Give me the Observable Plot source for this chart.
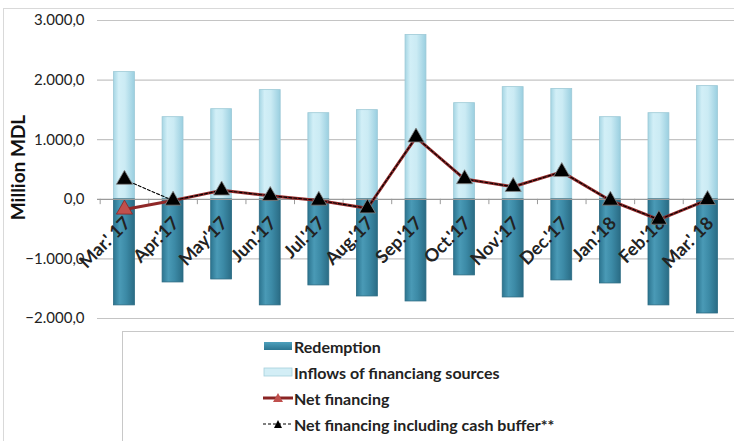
<!DOCTYPE html>
<html>
<head>
<meta charset="utf-8">
<script src="https://cdn.jsdelivr.net/npm/d3@7"></script>
<script src="https://cdn.jsdelivr.net/npm/@observablehq/plot@0.6"></script>
<style>
  html, body { margin: 0; padding: 0; background: #fff; width: 734px; height: 441px; overflow: hidden; }
  #wrap { position: relative; width: 734px; height: 441px; font-family: Lato, "Open Sans", sans-serif; }
  #frame { position: absolute; left: 3px; top: 8px; width: 740px; height: 440px; border: 1px solid #d9d9d9; box-sizing: border-box; }
  #chart { position: absolute; left: 0; top: 0; }
  #legend { position: absolute; left: 122px; top: 331px; width: 620px; height: 120px; border: 1px solid #c8c8c8; box-sizing: border-box; background: #fff; }
  .item { position: absolute; left: 140px; height: 20px; display: flex; align-items: center; font-weight: bold; font-size: 16px; color: #222; }
  .item svg { margin-right: 1px; }
</style>
</head>
<body>
<div id="wrap">
  <div id="frame"></div>
  <div id="chart"></div>
  <div id="legend"></div>
</div>
<script>
const categories = ["Mar.' 17","Apr.'17","May'17","Jun.'17","Jul.'17","Aug.'17","Sep.'17","Oct.'17","Nov.'17","Dec.'17","Jan.'18","Feb.'18","Mar.' 18"];
const inflows = [2134, 1378, 1512, 1832, 1445, 1496, 2756, 1613, 1882, 1849, 1378, 1445, 1899];
const redemption = [-1780, -1395, -1345, -1780, -1445, -1630, -1714, -1277, -1647, -1361, -1412, -1780, -1916];
const netFinancing = [-170, -20, 150, 60, -20, -150, 1040, 340, 210, 460, -20, -340, -10];
const netWithBuffer = [330, -20, 150, 60, -20, -150, 1040, 340, 210, 460, -20, -340, -10];
const yTicks = [-2000, -1000, 0, 1000, 2000, 3000];
const seriesNames = ["Redemption", "Inflows of financiang sources", "Net financing", "Net financing including cash buffer**"];

const rows = categories.map((c, i) => ({
  cat: c, inflow: inflows[i], redemption: redemption[i], net: netFinancing[i], buffer: netWithBuffer[i]
}));

const loc = d3.formatLocale({decimal: ",", thousands: ".", grouping: [3], currency: ["", ""]});
const fmt = loc.format(",.1f");

const W = 734, H = 328, ML = 97, MR = 0, MT = 20, MB = 10;
const PI = 0.57, PO = 0.34;
const step = (W - ML - MR) / (categories.length - PI + 2 * PO);

const chart = Plot.plot({
  width: W,
  height: H,
  marginLeft: ML,
  marginRight: MR,
  marginTop: MT,
  marginBottom: MB,
  style: {fontFamily: "Lato, 'Open Sans', sans-serif", fontSize: "15px", color: "#222", background: "transparent"},
  x: {domain: categories, paddingInner: PI, paddingOuter: PO, round: false, axis: null},
  y: {domain: [-2000, 3000], ticks: yTicks, tickFormat: fmt, tickSize: 0, tickPadding: 13, label: null},
  marks: [
    Plot.ruleY(yTicks.filter(d => d !== 0), {stroke: "#c4c4c4", strokeWidth: 1.2}),
    Plot.barY(rows, {x: "cat", y: "inflow", fill: "url(#gIn)", stroke: "#9cc9d6", strokeWidth: 0.8}),
    Plot.barY(rows, {x: "cat", y: "redemption", fill: "url(#gRed)", stroke: "#2a6a82", strokeWidth: 0.8}),
    Plot.ruleY([0], {stroke: "#9a9a9a", strokeWidth: 1.2}),
    Plot.ruleX(categories, {x: d => d, y1: 0, y2: -90, dx: -step / 2, stroke: "#9a9a9a"}),
    Plot.text(categories, {x: d => d, y: 0, text: d => d, rotate: -45, textAnchor: "end", dx: 3, dy: 21, fontWeight: "bold", fontSize: 18, fill: "#222"}),
    Plot.line(rows, {x: "cat", y: "net", stroke: "#8f2828", strokeWidth: 3}),
    Plot.line(rows, {x: "cat", y: "buffer", stroke: "#000", strokeWidth: 1.1, strokeDasharray: "3,2"}),
    Plot.dot(rows, {x: "cat", y: "buffer", symbol: "triangle", r: 6, fill: "#000", stroke: "#888", strokeWidth: 0.8}),
    Plot.dot(rows.slice(0, 1), {x: "cat", y: "net", symbol: "triangle", r: 6, fill: "#c0504d", stroke: "#8a2424", strokeWidth: 0.8}),
    Plot.text(["Million MDL"], {frameAnchor: "left", textAnchor: "middle", text: d => d, rotate: -90, dx: -79, dy: -2, fontWeight: "bold", fontSize: 19, fill: "#111"})
  ]
});

const defs = d3.select(chart).insert("defs", ":first-child");
const gIn = defs.append("linearGradient").attr("id", "gIn").attr("x1", "0").attr("x2", "1").attr("y1", "0").attr("y2", "0");
[[0, "#a6d6e4"], [0.25, "#d2eff7"], [0.55, "#cbebf4"], [1, "#9acfe0"]].forEach(([o, c]) => gIn.append("stop").attr("offset", o).attr("stop-color", c));
const gRed = defs.append("linearGradient").attr("id", "gRed").attr("x1", "0").attr("x2", "1").attr("y1", "0").attr("y2", "0");
[[0, "#2c7590"], [0.3, "#4a9ab6"], [0.6, "#3c8aa6"], [1, "#2a6c85"]].forEach(([o, c]) => gRed.append("stop").attr("offset", o).attr("stop-color", c));

document.getElementById("chart").appendChild(chart);

// Legend
const legend = document.getElementById("legend");
const swatches = [
  `<svg width="30" height="12"><rect x="1" y="2" width="28" height="8" fill="url(#lgRed)"/><defs><linearGradient id="lgRed" x1="0" x2="0" y1="0" y2="1"><stop offset="0" stop-color="#4da0bc"/><stop offset="1" stop-color="#2c7590"/></linearGradient></defs></svg>`,
  `<svg width="30" height="12"><rect x="1" y="2" width="28" height="8" fill="#d3eef6" stroke="#a6cfdc" stroke-width="0.8"/></svg>`,
  `<svg width="30" height="12"><line x1="0" x2="30" y1="6" y2="6" stroke="#8a2424" stroke-width="3"/><path d="M15,1 L20,10 L10,10 Z" fill="#c0504d"/></svg>`,
  `<svg width="30" height="12"><line x1="0" x2="30" y1="6" y2="6" stroke="#000" stroke-width="1.1" stroke-dasharray="3,2"/><path d="M15,2 L19,10 L11,10 Z" fill="#000"/></svg>`
];
seriesNames.forEach((name, i) => {
  const div = document.createElement("div");
  div.className = "item";
  div.style.top = (4 + i * 26) + "px";
  div.innerHTML = swatches[i] + `<span>${name}</span>`;
  legend.appendChild(div);
});
</script>
</body>
</html>
